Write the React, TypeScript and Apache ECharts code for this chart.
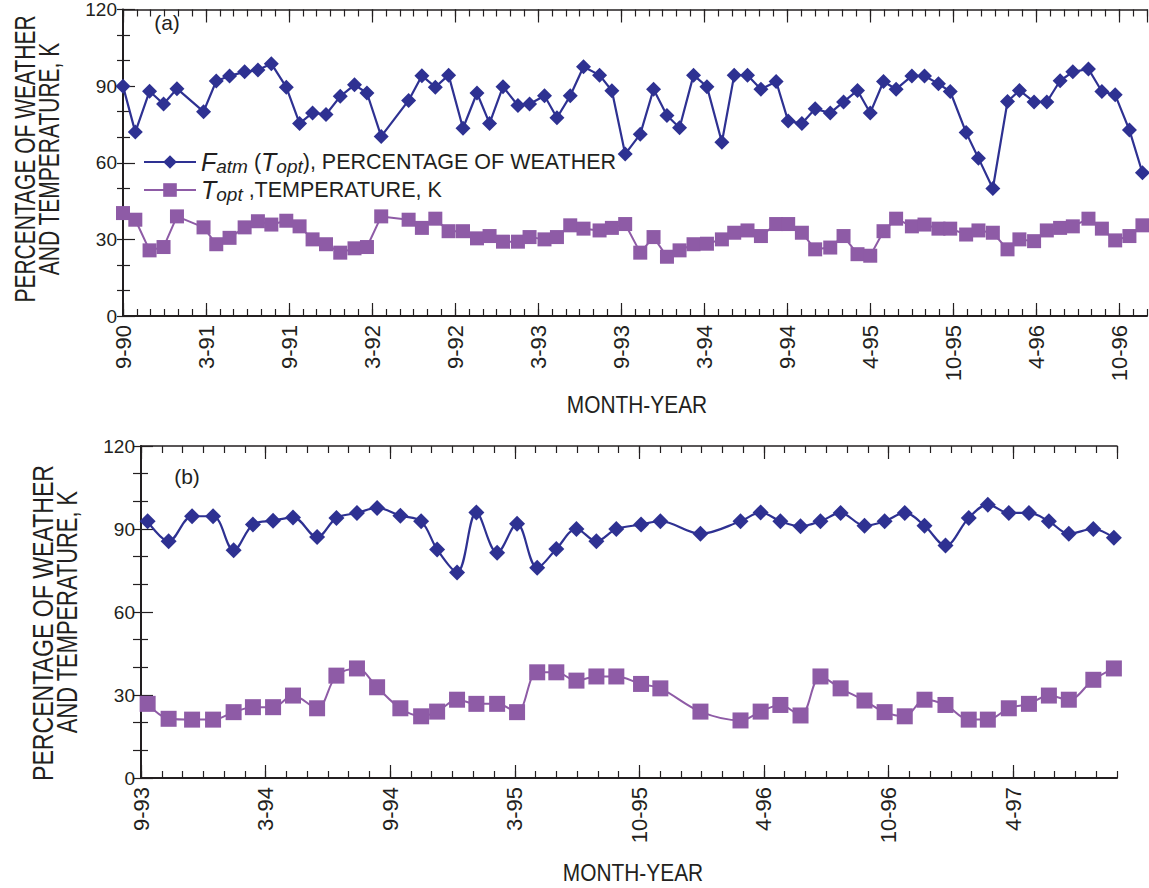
import React, { useEffect, useRef } from 'react';
import * as echarts from 'echarts';

// ---- tick labels ----
const monthLabelsA = ['9-90', '3-91', '9-91', '3-92', '9-92', '3-93', '9-93', '3-94', '9-94', '4-95', '10-95', '4-96', '10-96'];
const monthLabelsB = ['9-93', '3-94', '9-94', '3-95', '10-95', '4-96', '10-96', '4-97'];

// ---- panel (a): sample position in months from 9-90, and values ----
const sampleMonthsA = [0, 0.89, 1.92, 2.93, 3.9, 5.82, 6.74, 7.7, 8.79, 9.75, 10.72, 11.8, 12.76, 13.7, 14.67, 15.7, 16.73, 17.63, 18.66, 20.64, 21.6, 22.57, 23.53, 24.57, 25.58, 26.49, 27.46, 28.54, 29.38, 30.46, 31.36, 32.32, 33.28, 34.44, 35.33, 36.29, 37.38, 38.34, 39.31, 40.22, 41.23, 42.2, 43.28, 44.17, 45.13, 46.1, 47.2, 48.07, 49.06, 50.02, 51.11, 52.07, 53.08, 54, 54.96, 55.87, 57.01, 57.92, 58.93, 59.78, 60.93, 61.82, 62.86, 63.92, 64.78, 65.84, 66.76, 67.72, 68.64, 69.77, 70.74, 71.7, 72.73, 73.67];
const weatherA = [90, 72, 88, 83, 89, 80, 92, 94, 95.6, 96.3, 98.8, 89.6, 75.4, 79.5, 78.9, 86, 90.5, 87.3, 70.3, 84.4, 94.1, 89.6, 94.3, 73.5, 87.3, 75.4, 89.8, 82.4, 83, 86.2, 77.6, 86.2, 97.6, 94.3, 88.2, 63.4, 71.2, 88.8, 78.5, 73.7, 94.3, 89.8, 68, 94.3, 94.3, 88.8, 91.8, 76.3, 75.4, 81.1, 79.5, 83.8, 88.3, 79.5, 91.8, 88.8, 94, 94, 90.9, 87.9, 71.8, 61.8, 49.9, 84, 88.3, 83.8, 83.8, 92.1, 95.6, 96.7, 87.9, 86.6, 72.8, 56.1];
const temperatureA = [40.3, 37.7, 25.7, 27, 39, 34.7, 28.1, 30.6, 34.7, 37.1, 35.8, 37.3, 35.1, 30, 28.1, 24.8, 26.5, 27, 39, 37.7, 34.5, 38.1, 33.2, 33.2, 30.4, 31.3, 29.1, 29.1, 30.9, 30, 30.9, 35.5, 34.2, 33.5, 34.5, 36, 24.8, 30.9, 23.2, 25.7, 28.1, 28.3, 30, 32.6, 33.5, 31.3, 36, 36, 32.6, 26.1, 26.8, 31.3, 24.2, 23.6, 33.2, 38.1, 35.1, 35.8, 34.2, 34.2, 31.9, 33.5, 32.6, 26.1, 30, 29.3, 33.5, 34.5, 35.1, 38.1, 34.2, 29.6, 31.3, 35.5];

// ---- panel (b): sample position in months from 9-93, and values ----
const sampleMonthsB = [0.32, 1.33, 2.46, 3.47, 4.46, 5.39, 6.36, 7.32, 8.48, 9.41, 10.4, 11.37, 12.49, 13.49, 14.26, 15.22, 16.15, 17.15, 18.11, 19.08, 20, 20.97, 21.93, 22.89, 24.08, 25.01, 26.94, 28.87, 29.84, 30.79, 31.76, 32.72, 33.69, 34.84, 35.81, 36.78, 37.73, 38.74, 39.86, 40.78, 41.79, 42.76, 43.72, 44.68, 45.86, 46.85];
const weatherB = [92.8, 85.6, 94.6, 94.6, 82.3, 91.6, 93, 94.2, 87.1, 94, 95.8, 97.6, 94.8, 92.8, 82.6, 74.3, 96, 81.4, 91.9, 76, 82.8, 90, 85.6, 90, 91.6, 92.8, 88.3, 92.8, 96, 92.8, 91, 92.8, 95.8, 91.2, 92.8, 95.8, 91.2, 84, 94, 98.8, 95.8, 95.8, 92.8, 88.3, 90, 86.8];
const temperatureB = [26.8, 21.4, 21.1, 21.1, 23.8, 25.6, 25.6, 29.8, 25.2, 37, 39.6, 32.8, 25.2, 22.3, 24, 28.3, 26.8, 26.8, 23.8, 38.2, 38.2, 35.2, 36.7, 36.7, 34, 32.4, 24, 20.8, 24, 26.4, 22.6, 36.7, 32.4, 28, 23.8, 22.3, 28.3, 26.4, 21.1, 21.1, 25.2, 26.8, 29.8, 28.3, 35.5, 39.6];

const AX = '#231F20';
const BLUE = '#2E3192';
const PURPLE = '#8E5BA6';
const FONT = '"Liberation Sans", Arial, Helvetica, sans-serif';

function xAxes(gridIndex: number, max: number, labels: string[]) {
  const base = { type: 'value', gridIndex, min: 0, max, splitLine: { show: false } };
  const tickStyle = { color: AX, width: 1.2 };
  return [
    {
      ...base, position: 'bottom', interval: 1,
      axisLine: { show: true, lineStyle: { color: AX, width: 2 } },
      axisTick: { show: true, inside: true, length: 7, lineStyle: tickStyle },
      axisLabel: { show: false },
    },
    {
      ...base, position: 'bottom', interval: 6,
      axisLine: { show: false },
      axisTick: { show: true, inside: true, length: 13, lineStyle: tickStyle },
      axisLabel: {
        show: true, rotate: 90, margin: 9, fontSize: 22, color: AX, fontFamily: FONT,
        showMaxLabel: false,
        formatter: (v: number) => (Math.abs(v % 6) < 1e-6 && labels[Math.round(v / 6)] ? labels[Math.round(v / 6)] : ''),
      },
    },
    {
      ...base, position: 'top', interval: 1,
      axisLine: { show: true, lineStyle: { color: AX, width: 1.5 } },
      axisTick: { show: true, inside: true, length: 7, lineStyle: tickStyle },
      axisLabel: { show: false },
    },
    {
      ...base, position: 'top', interval: 6,
      axisLine: { show: false },
      axisTick: { show: true, inside: true, length: 13, lineStyle: tickStyle },
      axisLabel: { show: false },
    },
  ];
}

function yAxes(gridIndex: number, rightTick: number) {
  return [
    {
      type: 'value', gridIndex, position: 'left', min: 0, max: 120, interval: 30,
      axisLine: { show: true, lineStyle: { color: AX, width: 2 } },
      axisTick: { show: true, inside: true, length: 12, lineStyle: { color: AX, width: 1.2 } },
      minorTick: { show: true, splitNumber: 3, length: 7, lineStyle: { color: AX, width: 1.2 } },
      axisLabel: { show: true, fontSize: 19, color: AX, fontFamily: FONT, margin: 6 },
      splitLine: { show: false }, minorSplitLine: { show: false },
    },
    {
      type: 'value', gridIndex, position: 'right', min: 0, max: 120, interval: 10,
      axisLine: { show: true, lineStyle: { color: AX, width: 1.5 } },
      axisTick: { show: true, inside: true, length: rightTick, lineStyle: { color: AX, width: 1.2 } },
      axisLabel: { show: false },
      splitLine: { show: false },
    },
  ];
}

function pairs(xs: number[], ys: number[]) {
  return xs.map((x, i) => [x, ys[i]]);
}

function yTitle(cx: number, cy: number, text: string, scaleX: number) {
  return {
    type: 'text', x: cx, y: cy, rotation: Math.PI / 2, scaleX, scaleY: 1,
    style: { text, fontSize: 30, fontFamily: FONT, fill: AX, align: 'center', verticalAlign: 'middle' },
    silent: true,
  };
}

function plainText(cx: number, cy: number, text: string, fontSize: number, scaleX = 1) {
  return {
    type: 'text', x: cx, y: cy, scaleX,
    style: { text, fontSize, fontFamily: FONT, fill: AX, align: 'center', verticalAlign: 'middle' },
    silent: true,
  };
}

export default function App() {
  const ref = useRef<HTMLDivElement>(null);
  useEffect(() => {
    if (!ref.current) return;
    const chart = echarts.init(ref.current, null, { renderer: 'svg' });
    const lineA = { type: 'line', clip: false, smooth: false };
    const option: any = {
      animation: false,
      backgroundColor: '#ffffff',
      grid: [
        { left: 123, top: 5, width: 1024, height: 311 },
        { left: 141, top: 446, width: 976, height: 332 },
      ],
      xAxis: [...xAxes(0, 74, monthLabelsA), ...xAxes(1, 47, monthLabelsB)],
      yAxis: [...yAxes(0, 6), ...yAxes(1, 8)],
      legend: {
        show: true, orient: 'vertical', left: 143, top: 148, padding: 0,
        itemWidth: 52, itemHeight: 17, itemGap: 0,
        data: ['F', 'T'],
        formatter: (name: string) =>
          name === 'F'
            ? '{i|F}{s|atm} ({i|T}{s|opt}), PERCENTAGE OF WEATHER'
            : '{i|T}{s|opt} ,TEMPERATURE, K',
        textStyle: {
          fontFamily: FONT, fontSize: 21.5, color: AX, lineHeight: 28,
          rich: {
            i: { fontStyle: 'italic', fontSize: 25, fontFamily: FONT, color: AX, lineHeight: 28 },
            s: { fontStyle: 'italic', fontSize: 19, fontFamily: FONT, color: AX, lineHeight: 14, verticalAlign: 'bottom' },
          },
        },
      },
      series: [
        {
          ...lineA, name: 'F', xAxisIndex: 0, yAxisIndex: 0, data: pairs(sampleMonthsA, weatherA),
          symbol: 'diamond', symbolSize: 15, lineStyle: { color: BLUE, width: 2.2 }, itemStyle: { color: BLUE }, z: 4,
        },
        {
          ...lineA, name: 'T', xAxisIndex: 0, yAxisIndex: 0, data: pairs(sampleMonthsA, temperatureA),
          symbol: 'rect', symbolSize: 14, lineStyle: { color: PURPLE, width: 2 }, itemStyle: { color: PURPLE }, z: 3,
        },
        {
          type: 'line', clip: false, smooth: 0.35, name: 'F', xAxisIndex: 4, yAxisIndex: 2, data: pairs(sampleMonthsB, weatherB),
          symbol: 'diamond', symbolSize: 16, lineStyle: { color: BLUE, width: 2.2 }, itemStyle: { color: BLUE }, z: 4,
        },
        {
          type: 'line', clip: false, smooth: 0.35, name: 'T', xAxisIndex: 4, yAxisIndex: 2, data: pairs(sampleMonthsB, temperatureB),
          symbol: 'rect', symbolSize: 16, lineStyle: { color: PURPLE, width: 2 }, itemStyle: { color: PURPLE }, z: 3,
        },
      ],
      graphic: [
        plainText(167, 22, '(a)', 21),
        plainText(187, 476, '(b)', 21),
        yTitle(25, 159, 'PERCENTAGE OF WEATHER', 0.7),
        yTitle(49, 159, 'AND TEMPERATURE, K', 0.7),
        yTitle(43, 623, 'PERCENTAGE OF WEATHER', 0.77),
        yTitle(67, 612, 'AND TEMPERATURE, K', 0.73),
        plainText(637, 405, 'MONTH-YEAR', 24, 0.87),
        plainText(633, 873, 'MONTH-YEAR', 24, 0.87),
      ],
    };
    chart.setOption(option);
    return () => chart.dispose();
  }, []);
  return (
    <div
      ref={ref}
      style={{ position: 'absolute', left: 0, top: 0, width: 1149, height: 888, background: '#fff' }}
    />
  );
}
